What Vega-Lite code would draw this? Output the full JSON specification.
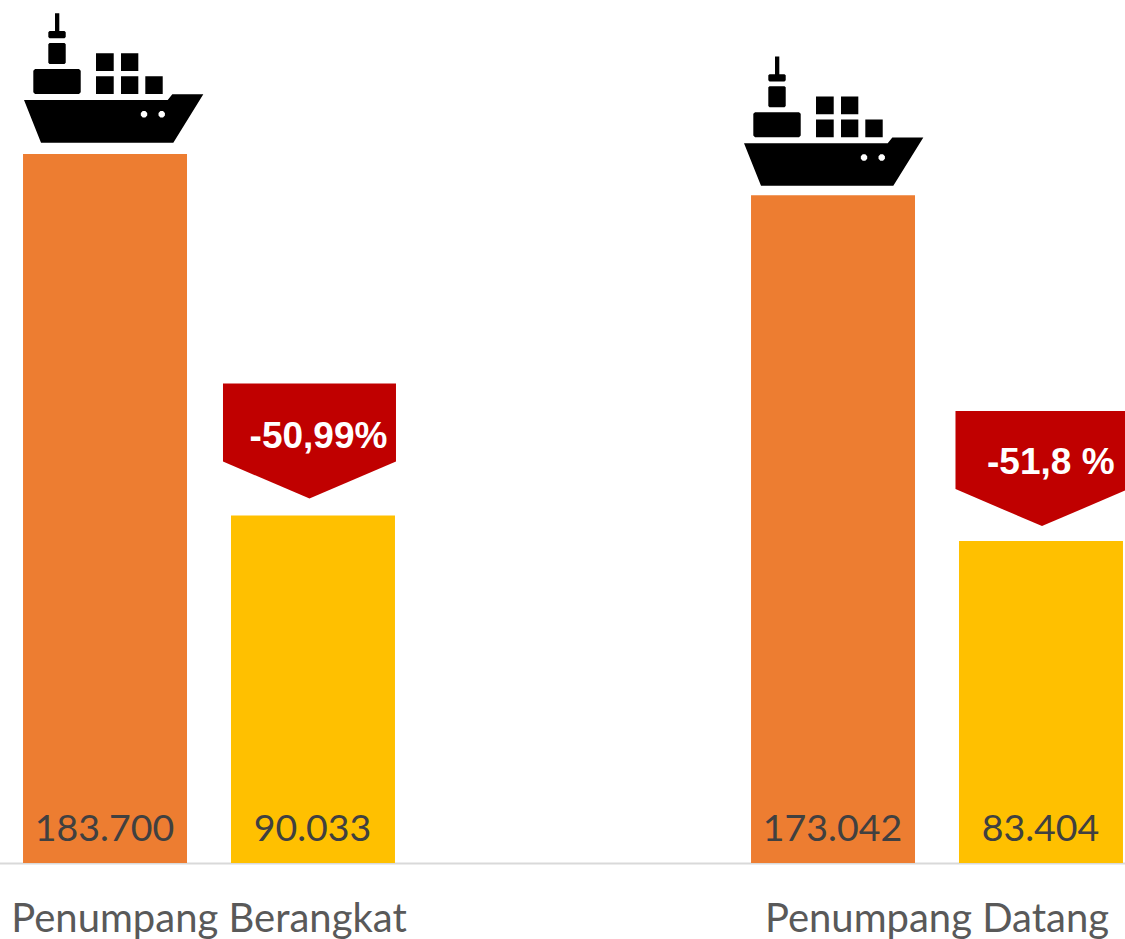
{
 "$schema":"https://vega.github.io/schema/vega-lite/v6.json",
 "width":1125,"height":863,"padding":{"left":0,"top":0,"right":0,"bottom":76},"autosize":{"type":"none"},
 "background":"#ffffff",
 "config":{"view":{"stroke":null}},
 "datasets":{"rows":[
  {"category":"Penumpang Berangkat","series":"Sebelum","value":183700,"label":"183.700"},
  {"category":"Penumpang Berangkat","series":"Sesudah","value":90033,"label":"90.033","change":"-50,99%"},
  {"category":"Penumpang Datang","series":"Sebelum","value":173042,"label":"173.042"},
  {"category":"Penumpang Datang","series":"Sesudah","value":83404,"label":"83.404","change":"-51,8 %"}
 ]},
 "data":{"name":"rows"},
 "encoding":{
  "x":{"field":"category","type":"nominal","sort":null,
   "scale":{"range":[-155,1301],"paddingInner":0,"paddingOuter":0},
   "axis":{"title":null,"ticks":false,"labelAngle":0,"labelFont":"Lato","labelFontSize":40,"labelLimit":1000,"labelColor":"#595959","labelPadding":68.5,"labelBaseline":"alphabetic","labelOverlap":false,"labelFlush":false,"labelBound":false,"domainColor":"#D9D9D9","domainWidth":2,"grid":false}},
  "xOffset":{"field":"series","type":"nominal","sort":null,"scale":{"paddingInner":0.2115,"paddingOuter":0.856}},
  "y":{"field":"value","type":"quantitative","scale":{"domain":[0,223600],"nice":false},"axis":null}
 },
 "layer":[
  {"mark":{"type":"bar"},
   "encoding":{"color":{"field":"series","type":"nominal","sort":null,"scale":{"range":["#ED7D31","#FFC000"]},"legend":null}}},
  {"mark":{"type":"text","font":"Lato","fontSize":37.5,"color":"#404040","baseline":"alphabetic","align":"center","dx":-0.5,"dy":-22.5},
   "encoding":{"y":{"datum":0,"type":"quantitative"},"text":{"field":"label","type":"nominal"}}},
  {"transform":[{"filter":"datum.series==='Sebelum' && datum.category==='Penumpang Berangkat'"}],
   "mark":{"type":"point","filled":true,"opacity":1,"color":"#000000","size":40000,"yOffset":-75.5,
    "shape":"M-.81,.215L-.64,.642L.683,.642L.983,.158L.673,.158L.627,.215ZM.403,.326L.422,.345L.422,.371L.403,.39L.377,.39L.358,.371L.358,.345L.377,.326ZM.58,.326L.599,.345L.599,.371L.58,.39L.554,.39L.535,.371L.535,.345L.554,.326ZM-.5,-.652L-.457,-.652L-.457,-.47L-.5,-.47ZM-.555,-.475L-.405,-.475L-.393,-.463L-.393,-.414L-.405,-.402L-.555,-.402L-.567,-.414L-.567,-.463ZM-.555,-.355L-.405,-.355L-.393,-.343L-.393,-.157L-.405,-.145L-.555,-.145L-.567,-.157L-.567,-.343ZM-.7,-.095L-.26,-.095L-.243,-.078L-.243,.138L-.26,.155L-.7,.155L-.717,.138L-.717,-.078ZM-.09,-.252L.087,-.252L.087,-.075L-.09,-.075ZM.16,-.252L.333,-.252L.333,-.075L.16,-.075ZM-.09,-.022L.087,-.022L.087,.155L-.09,.155ZM.16,-.022L.333,-.022L.333,.155L.16,.155ZM.403,-.022L.577,-.022L.577,.155L.403,.155Z"}},
  {"transform":[{"filter":"datum.series==='Sebelum' && datum.category==='Penumpang Datang'"}],
   "mark":{"type":"point","filled":true,"opacity":1,"color":"#000000","size":40000,"yOffset":-73.5,
    "shape":"M-.89,.215L-.72,.642L.603,.642L.903,.158L.593,.158L.547,.215ZM.323,.326L.342,.345L.342,.371L.323,.39L.297,.39L.278,.371L.278,.345L.297,.326ZM.5,.326L.519,.345L.519,.371L.5,.39L.474,.39L.455,.371L.455,.345L.474,.326ZM-.58,-.652L-.537,-.652L-.537,-.47L-.58,-.47ZM-.635,-.475L-.485,-.475L-.473,-.463L-.473,-.414L-.485,-.402L-.635,-.402L-.647,-.414L-.647,-.463ZM-.635,-.355L-.485,-.355L-.473,-.343L-.473,-.157L-.485,-.145L-.635,-.145L-.647,-.157L-.647,-.343ZM-.78,-.095L-.34,-.095L-.323,-.078L-.323,.138L-.34,.155L-.78,.155L-.797,.138L-.797,-.078ZM-.17,-.252L.007,-.252L.007,-.075L-.17,-.075ZM.08,-.252L.253,-.252L.253,-.075L.08,-.075ZM-.17,-.022L.007,-.022L.007,.155L-.17,.155ZM.08,-.022L.253,-.022L.253,.155L.08,.155ZM.323,-.022L.497,-.022L.497,.155L.323,.155Z"}},
  {"transform":[{"filter":"datum.change==='-50,99%'"}],
   "mark":{"type":"point","filled":true,"opacity":1,"color":"#C00000","size":40000,"yOffset":-17,
    "shape":"M-.9,-1.15L.83,-1.15L.83,-.37L-.035,0L-.9,-.37Z"}},
  {"transform":[{"filter":"datum.change==='-51,8 %'"}],
   "mark":{"type":"point","filled":true,"opacity":1,"color":"#C00000","size":40000,"yOffset":-15,
    "shape":"M-.855,-1.15L.875,-1.15L.875,-.37L.01,0L-.855,-.37Z"}},
  {"transform":[{"filter":"datum.change==='-50,99%'"}],
   "mark":{"type":"text","font":"Liberation Sans","fontWeight":"bold","fontSize":37,"color":"#ffffff","baseline":"alphabetic","align":"center","dx":5.5,"dy":-67.8},
   "encoding":{"text":{"field":"change","type":"nominal"}}},
  {"transform":[{"filter":"datum.change==='-51,8 %'"}],
   "mark":{"type":"text","font":"Liberation Sans","fontWeight":"bold","fontSize":37,"color":"#ffffff","baseline":"alphabetic","align":"center","dx":9.8,"dy":-67},
   "encoding":{"text":{"field":"change","type":"nominal"}}}
 ]
}
